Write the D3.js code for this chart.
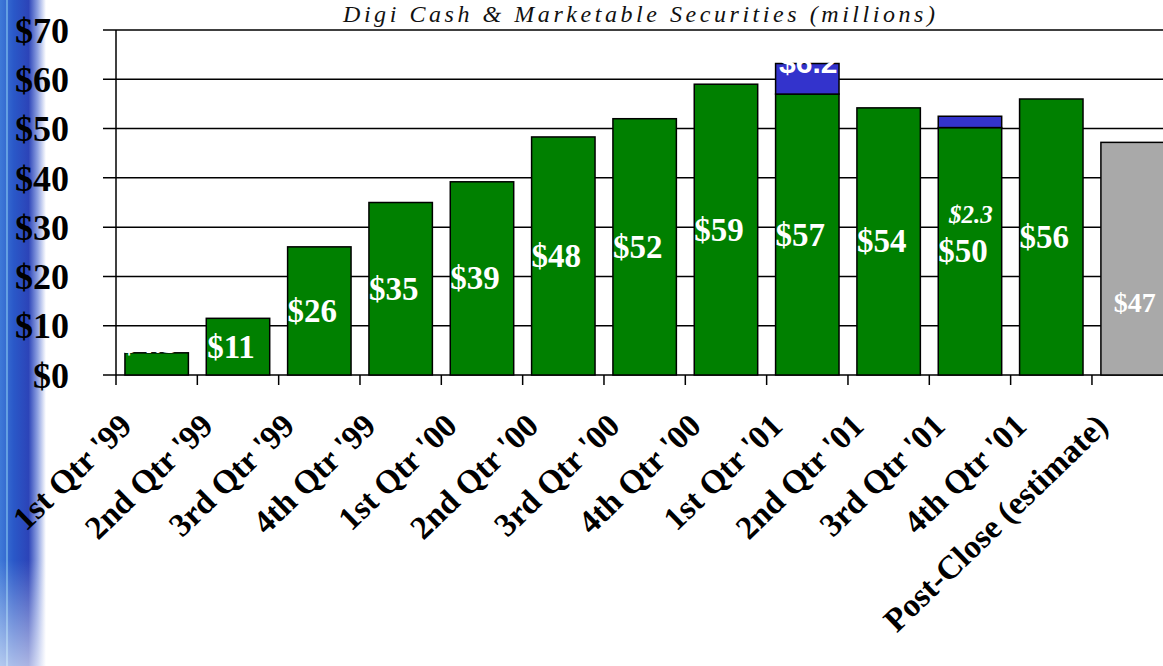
<!DOCTYPE html>
<html>
<head>
<meta charset="utf-8">
<script src="https://cdn.jsdelivr.net/npm/d3@7"></script>
<style>
  body { margin: 0; background: #fff; overflow: hidden; }
  svg { display: block; }
</style>
</head>
<body>
<div id="graph"></div>
<script>
// chart data
const categories = ["1st Qtr '99", "2nd Qtr '99", "3rd Qtr '99", "4th Qtr '99",
                    "1st Qtr '00", "2nd Qtr '00", "3rd Qtr '00", "4th Qtr '00",
                    "1st Qtr '01", "2nd Qtr '01", "3rd Qtr '01", "4th Qtr '01",
                    "Post-Close (estimate)"];
const cashValues  = [4.5, 11.5, 26, 35, 39.2, 48.3, 52, 59, 57, 54.2, 50.2, 56, 0];
const cashLabels  = ["$4.5", "$11", "$26", "$35", "$39", "$48", "$52", "$59", "$57", "$54", "$50", "$56", ""];
const extraValues = [0, 0, 0, 0, 0, 0, 0, 0, 6.2, 0, 2.3, 0, 0];
const extraLabels = ["", "", "", "", "", "", "", "", "$6.2", "", "$2.3", "", ""];
const estimateValues = [0, 0, 0, 0, 0, 0, 0, 0, 0, 0, 0, 0, 47.2];
const estimateLabels = ["", "", "", "", "", "", "", "", "", "", "", "", "$47"];
const yTicks = [0, 10, 20, 30, 40, 50, 60, 70];
const title = "Digi Cash & Marketable Securities (millions)";

function graph() {
  let w = 1163;
  let h = 666;
  let left = 116;
  let top = 30;
  let bottom = 375;
  let step = 81.33;
  let serif = "'Liberation Serif', 'Times New Roman', serif";

  const svg = d3.select("#graph")
                .append("svg")
                .attr("width", w)
                .attr("height", h);

  // decorative blue strip on the left edge of the slide
  const defs = svg.append("defs");
  const grad = defs.append("linearGradient")
                   .attr("id", "strip")
                   .attr("x1", 0).attr("x2", 1).attr("y1", 0).attr("y2", 0);
  grad.append("stop").attr("offset", 0).attr("stop-color", "#3f7ad8");
  grad.append("stop").attr("offset", 0.3).attr("stop-color", "#2a58c8");
  grad.append("stop").attr("offset", 0.62).attr("stop-color", "#2c44b8");
  grad.append("stop").attr("offset", 0.82).attr("stop-color", "#8fa2e2");
  grad.append("stop").attr("offset", 1).attr("stop-color", "#ffffff");
  svg.append("rect")
     .attr("x", 0).attr("y", 0)
     .attr("width", 46).attr("height", h)
     .attr("fill", "url(#strip)");
  svg.append("line")
     .attr("x1", 7).attr("x2", 7).attr("y1", 0).attr("y2", h)
     .attr("stroke", "#8fd0f5").attr("stroke-width", 1.5).attr("opacity", 0.7);
  const fade = defs.append("linearGradient")
                   .attr("id", "fade")
                   .attr("x1", 0).attr("x2", 0).attr("y1", 0).attr("y2", 1);
  fade.append("stop").attr("offset", 0).attr("stop-color", "#fff").attr("stop-opacity", 0);
  fade.append("stop").attr("offset", 1).attr("stop-color", "#fff").attr("stop-opacity", 0.6);
  svg.append("rect")
     .attr("x", 0).attr("y", 560)
     .attr("width", 46).attr("height", h - 560)
     .attr("fill", "url(#fade)");

  const xScale = d3.scaleBand()
                   .domain(categories.concat(["_"]))
                   .range([left, left + step * 14])
                   .paddingInner(0.22)
                   .paddingOuter(0.11);

  const yScale = d3.scaleLinear()
                   .domain([0, 70])
                   .range([bottom, top]);

  // title
  svg.append("text")
     .attr("x", 343)
     .attr("y", 22)
     .attr("textLength", 592)
     .attr("lengthAdjust", "spacing")
     .style("font-family", serif)
     .style("font-style", "italic")
     .style("font-size", "24px")
     .style("fill", "#111")
     .text(title);

  // gridlines
  svg.append("g")
     .selectAll("line")
     .data(yTicks)
     .join("line")
     .attr("x1", left - 13)
     .attr("x2", w)
     .attr("y1", d => yScale(d))
     .attr("y2", d => yScale(d))
     .attr("stroke", "#000")
     .attr("stroke-width", 1.5);

  // y axis
  const yAxis = d3.axisLeft(yScale)
                  .tickValues(yTicks)
                  .tickSize(0)
                  .tickPadding(0)
                  .tickFormat(d => "$" + d);
  const gy = svg.append("g")
     .attr("id", "y-axis")
     .attr("transform", "translate(69,0)")
     .call(yAxis);
  gy.select(".domain").remove();
  gy.selectAll("text")
    .attr("dy", "0.34em")
    .style("font-family", serif)
    .style("font-weight", "bold")
    .style("font-size", "36px")
    .style("fill", "#000");

  svg.append("line")
     .attr("x1", left).attr("x2", left)
     .attr("y1", top).attr("y2", bottom + 10)
     .attr("stroke", "#000").attr("stroke-width", 1.5);

  // x ticks at the band boundaries
  svg.append("g")
     .selectAll("line")
     .data(categories)
     .join("line")
     .attr("x1", d => xScale(d) - xScale.step() * 0.11 + xScale.step())
     .attr("x2", d => xScale(d) - xScale.step() * 0.11 + xScale.step())
     .attr("y1", bottom)
     .attr("y2", bottom + 10)
     .attr("stroke", "#000")
     .attr("stroke-width", 1.5);

  // bars
  const bw = xScale.bandwidth();
  const cash = categories.map((c, i) => ({c: c, v: cashValues[i], label: cashLabels[i], i: i}));
  const extra = categories.map((c, i) => ({c: c, base: cashValues[i], v: extraValues[i], label: extraLabels[i], i: i}));
  const est = categories.map((c, i) => ({c: c, v: estimateValues[i], label: estimateLabels[i], i: i}));

  svg.append("g")
     .selectAll("rect")
     .data(cash.filter(d => d.v > 0))
     .join("rect")
     .attr("x", d => xScale(d.c))
     .attr("y", d => yScale(d.v))
     .attr("width", bw)
     .attr("height", d => yScale(0) - yScale(d.v))
     .attr("fill", "#008000")
     .attr("stroke", "#000")
     .attr("stroke-width", 1.5);

  svg.append("g")
     .selectAll("rect")
     .data(extra.filter(d => d.v > 0))
     .join("rect")
     .attr("x", d => xScale(d.c))
     .attr("y", d => yScale(d.base + d.v))
     .attr("width", bw)
     .attr("height", d => yScale(d.base) - yScale(d.base + d.v))
     .attr("fill", "#3333cc")
     .attr("stroke", "#000")
     .attr("stroke-width", 1.5);

  svg.append("g")
     .selectAll("rect")
     .data(est.filter(d => d.v > 0))
     .join("rect")
     .attr("x", d => xScale(d.c))
     .attr("y", d => yScale(d.v))
     .attr("width", bw)
     .attr("height", d => yScale(0) - yScale(d.v))
     .attr("fill", "#a9a9a9")
     .attr("stroke", "#000")
     .attr("stroke-width", 1.5);

  // value labels (white, centred in the bar, slightly left)
  svg.append("g")
     .selectAll("text")
     .data(cash.filter(d => d.label))
     .join("text")
     .attr("x", d => xScale(d.c) + bw / 2 - 7)
     .attr("y", d => {
        let top = yScale(d.v);
        let hgt = yScale(0) - top;
        return hgt < 40 ? top + 0.5 : top + hgt / 2 + 11;
     })
     .attr("text-anchor", "middle")
     .style("font-family", serif)
     .style("font-weight", "bold")
     .style("font-size", "33px")
     .style("fill", "#fff")
     .text(d => d.label);

  svg.append("g")
     .selectAll("text")
     .data(extra.filter(d => d.label))
     .join("text")
     .attr("x", d => xScale(d.c) + bw / 2 + 1)
     .attr("y", d => d.v > 5 ? yScale(d.base + d.v) + 9 : yScale(d.base) + 95)
     .attr("text-anchor", "middle")
     .style("font-family", d => d.v > 5 ? "'Liberation Sans', Arial, sans-serif" : serif)
     .style("font-style", d => d.v > 5 ? "normal" : "italic")
     .style("font-weight", "bold")
     .style("font-size", d => d.v > 5 ? "30px" : "25px")
     .style("fill", "#fff")
     .text(d => d.label);

  svg.append("g")
     .selectAll("text")
     .data(est.filter(d => d.label))
     .join("text")
     .attr("x", d => xScale(d.c) + bw / 2 + 2)
     .attr("y", d => yScale(0) - 63)
     .attr("text-anchor", "middle")
     .style("font-family", serif)
     .style("font-weight", "bold")
     .style("font-size", "28px")
     .style("fill", "#fff")
     .text(d => d.label);

  // rotated category labels
  svg.append("g")
     .selectAll("text")
     .data(categories)
     .join("text")
     .attr("transform", d => "translate(" + (xScale(d) + bw / 2 - 23) + "," + 428 + ") rotate(-44)")
     .attr("text-anchor", "end")
     .style("font-family", serif)
     .style("font-weight", "bold")
     .style("font-size", "33px")
     .style("fill", "#000")
     .text(d => d);
}

graph();
</script>
</body>
</html>
